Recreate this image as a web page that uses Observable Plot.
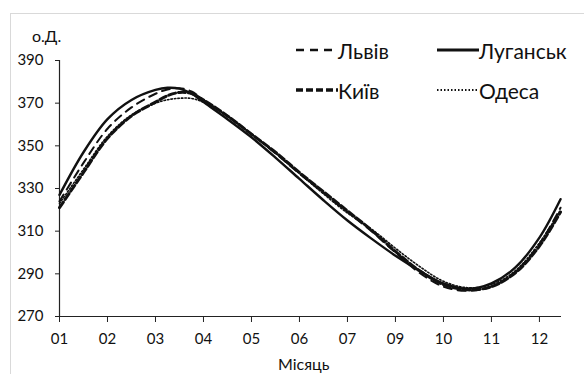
<!DOCTYPE html>
<html><head><meta charset="utf-8">
<script src="https://cdn.jsdelivr.net/npm/d3@7"></script>
<script src="https://cdn.jsdelivr.net/npm/@observablehq/plot@0.6"></script>
<style>
body{margin:0;background:#fff;font-family:Lato,"Liberation Sans",sans-serif;}
#wrap{position:relative;width:584px;height:374px;overflow:hidden;background:#fff;}
#frame{position:absolute;left:10px;top:13px;width:620px;height:420px;border:1px solid #d9d9d9;}
.t{position:absolute;color:#111;white-space:nowrap;}
.leg{position:absolute;font-size:21px;color:#111;display:flex;align-items:center;height:24px;}
.leg svg{display:block;}
#chart{position:absolute;left:0;top:0;}
</style></head>
<body><div id="wrap"><div id="frame"></div><div id="chart"></div></div>
<script>
const monthLabels = ["01","02","03","04","05","06","07","09","10","11","12"];
const positions = [0,0.5,1,1.5,2,2.25,2.5,2.75,3,3.5,4,4.5,5,5.5,6,6.5,7,7.5,8,8.5,9,9.5,10,10.44];
const lviv    = [324,342,358,368,374.4,376.4,377,375.5,371.5,364,355.5,346.5,337,328,319,310,300,290.5,284,282,284,291,304,321];
const lugansk = [327,347,362.5,371.5,376.2,377.2,376.8,374.5,370.5,362.5,354,344.5,334.5,324.5,315,306.5,298.5,291.5,285.5,283,285.5,293,307,325];
const kyiv    = [321,337.5,353.5,364,370.5,373.5,375,374.5,371.5,364,355.5,347,337.5,328.5,319.5,310.5,300.5,291.5,285,282.5,284,290.5,303,319];
const odesa   = [323,339,354.5,364.5,370,371.6,372.3,372.2,370.5,364,355.5,346.5,337,327.5,318.5,311,302,293.5,286.5,283.5,285,291.5,304.5,320];
const yTicks = [270,290,310,330,350,370,390];

const seriesDefs = [
  {name:"Львів", values:lviv, sw:2, dash:"8,6"},
  {name:"Луганськ", values:lugansk, sw:2.4, dash:null},
  {name:"Київ", values:kyiv, sw:3, dash:"7,3"},
  {name:"Одеса", values:odesa, sw:1.6, dash:"1.5,2"}
];
const rows = s => positions.map((p,i)=>({p, v:s.values[i], name:s.name}));

const plot = Plot.plot({
  width:584, height:374,
  marginLeft:59, marginRight:23, marginTop:60, marginBottom:58,
  style:{fontFamily:"Lato, 'Liberation Sans', sans-serif", fontSize:"15px", color:"#111", background:"transparent", overflow:"visible"},
  x:{domain:[0,10.46], label:null},
  y:{domain:[270,390], label:null},
  marks:[
    Plot.ruleX([0],{stroke:"#222", strokeWidth:1.2}),
    Plot.ruleY([270],{stroke:"#222", strokeWidth:1.2}),
    Plot.axisY({ticks:yTicks, tickSize:4, tickPadding:12, tickFormat:d=>String(d), stroke:"#222", label:null}),
    Plot.axisX({ticks:d3.range(monthLabels.length), tickSize:6, tickPadding:11, tickFormat:i=>monthLabels[i], stroke:"#222", label:null}),
    ...seriesDefs.map(s => Plot.line(rows(s), {x:"p", y:"v", curve:"catmull-rom", stroke:"#111", strokeWidth:s.sw, strokeDasharray:s.dash}))
  ]
});
document.getElementById("chart").appendChild(plot);

const wrap = document.getElementById("wrap");
function addText(txt, left, top, size){
  const d=document.createElement("div"); d.className="t"; d.textContent=txt;
  d.style.left=left+"px"; d.style.top=top+"px"; d.style.fontSize=size+"px"; wrap.appendChild(d); return d;
}
addText("о.Д.", 32, 26, 16);
addText("Місяць", 278, 354, 16);

const legendPos = [[296,38],[437,38],[296,78],[437,78]];
seriesDefs.forEach((s,i)=>{
  const d=document.createElement("div"); d.className="leg";
  d.style.left=legendPos[i][0]+"px"; d.style.top=legendPos[i][1]+"px";
  const svg=d3.create("svg").attr("width",42).attr("height",24);
  svg.append("line").attr("x1",0).attr("x2",42).attr("y1",12).attr("y2",12)
    .attr("stroke","#111").attr("stroke-width",s.sw+0.4).attr("stroke-dasharray",s.dash);
  d.appendChild(svg.node());
  const sp=document.createElement("span"); sp.textContent=s.name; d.appendChild(sp);
  wrap.appendChild(d);
});
</script></body></html>
